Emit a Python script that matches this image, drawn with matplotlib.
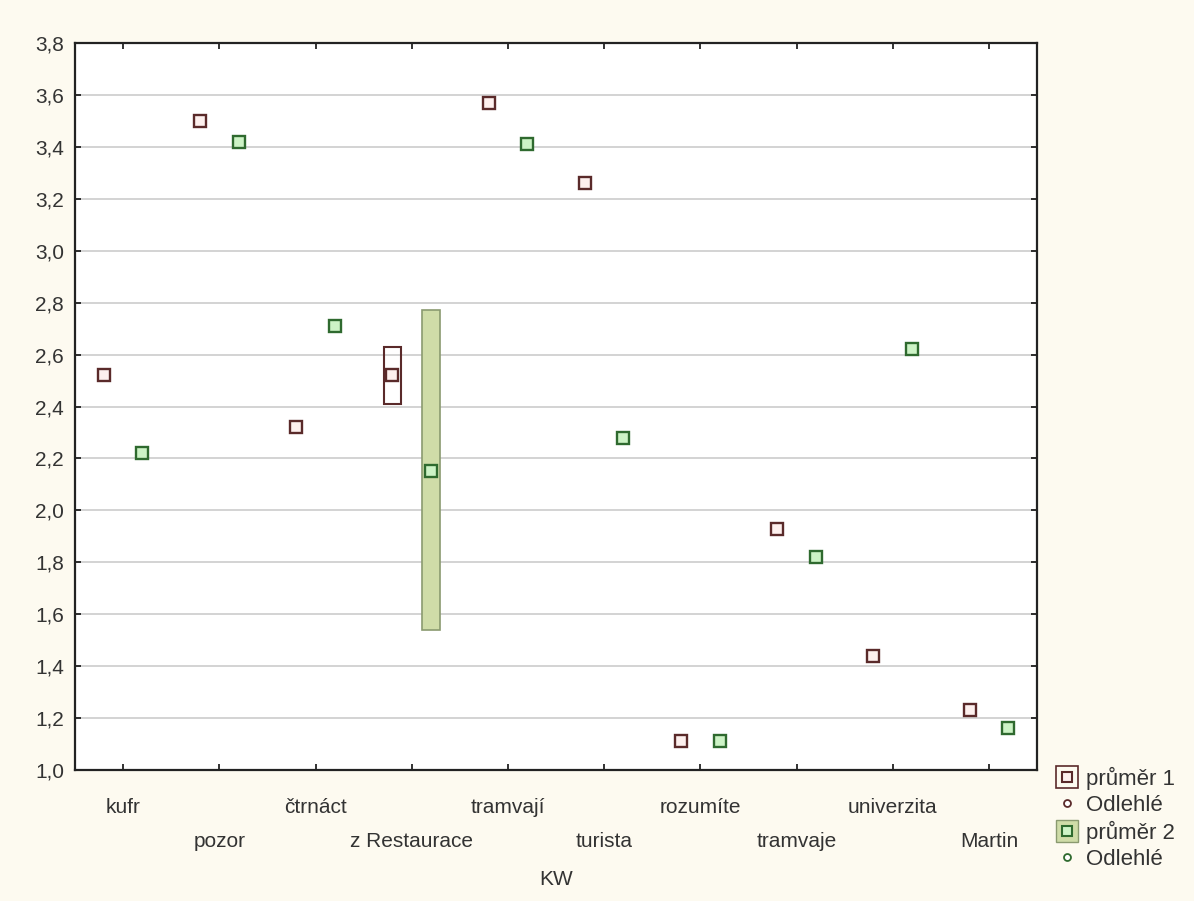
import numpy as np
import matplotlib
matplotlib.use('Agg')
import matplotlib.pyplot as plt
from matplotlib.lines import Line2D

plt.rcParams['font.family'] = ['Liberation Sans', 'DejaVu Sans']

# categories (KW) and the two means
words = ['kufr', 'pozor', 'čtrnáct', 'z Restaurace', 'tramvají',
         'turista', 'rozumíte', 'tramvaje', 'univerzita', 'Martin']
mean1 = [2.52, 3.50, 2.32, 2.52, 3.57, 3.26, 1.11, 1.93, 1.44, 1.23]
mean2 = [2.22, 3.42, 2.71, 2.15, 3.41, 2.28, 1.11, 1.82, 2.62, 1.16]
# box limits (only z Restaurace has a visible box)
box1_lo = [np.nan, np.nan, np.nan, 2.41, np.nan, np.nan, np.nan, np.nan, np.nan, np.nan]
box1_hi = [np.nan, np.nan, np.nan, 2.63, np.nan, np.nan, np.nan, np.nan, np.nan, np.nan]
box2_lo = [np.nan, np.nan, np.nan, 1.54, np.nan, np.nan, np.nan, np.nan, np.nan, np.nan]
box2_hi = [np.nan, np.nan, np.nan, 2.77, np.nan, np.nan, np.nan, np.nan, np.nan, np.nan]

bg = '#fdfaf0'
c1_edge = '#5a2a2a'
c1_fill = '#fdf0ee'
c2_edge = '#2f6a2f'
c2_fill = '#cdf3c6'
box2_fill = '#cfdca8'
box2_edge = '#8a9a70'
fs = 15

fig = plt.figure(figsize=(11.94, 9.01), dpi=100, facecolor=bg)
ax = fig.add_axes([75/1194, 1 - 770/901, (1037-75)/1194, (770-43)/901])
ax.set_facecolor('white')

x = np.arange(len(words))
off = 0.2
bw = 0.18

# boxes
for i in range(len(words)):
    if not np.isnan(box1_lo[i]):
        ax.bar(x[i] - off, box1_hi[i] - box1_lo[i], bottom=box1_lo[i], width=bw,
               facecolor='none', edgecolor=c1_edge, linewidth=1.5, zorder=3)
    if not np.isnan(box2_lo[i]):
        ax.bar(x[i] + off, box2_hi[i] - box2_lo[i], bottom=box2_lo[i], width=bw,
               facecolor=box2_fill, edgecolor=box2_edge, linewidth=1.2, zorder=3)

ax.plot(x - off, mean1, 's', ms=8, mfc=c1_fill, mec=c1_edge, mew=1.7, ls='none', zorder=4)
ax.plot(x + off, mean2, 's', ms=8, mfc=c2_fill, mec=c2_edge, mew=1.7, ls='none', zorder=4)

ax.set_xlim(-0.5, 9.5)
ax.set_ylim(1.0, 3.8)
yt = np.arange(1.0, 3.81, 0.2)
ax.set_yticks(yt)
ax.set_yticklabels([('%.1f' % v).replace('.', ',') for v in yt])
ax.set_xticks(x)
ax.set_xticklabels([w if i % 2 == 0 else '\n' + w for i, w in enumerate(words)])
ax.yaxis.grid(True, color='#cccccc', lw=1.2)
ax.set_axisbelow(True)
ax.tick_params(direction='in', length=4, width=1.2, top=True, right=True,
               labelsize=fs, colors='#111111', labelcolor='#333333')
ax.tick_params(axis='x', pad=20)
ax.tick_params(axis='y', pad=8)
for s in ax.spines.values():
    s.set_linewidth(1.6)
    s.set_color('#222222')
for lbl in ax.get_xticklabels():
    lbl.set_linespacing(2.0)
ax.set_xlabel('KW', fontsize=fs, color='#333333', labelpad=14)

# legend at lower right, clipped by figure edge
h1 = (Line2D([], [], marker='s', ms=16, mfc='none', mec=c1_edge, mew=1.2, ls='none'),
      Line2D([], [], marker='s', ms=6.5, mfc=c1_fill, mec=c1_edge, mew=1.5, ls='none'))
h2 = Line2D([], [], marker='o', ms=5, mfc='white', mec=c1_edge, mew=1.3, ls='none')
h3 = (Line2D([], [], marker='s', ms=16, mfc=box2_fill, mec=box2_edge, mew=1.0, ls='none'),
      Line2D([], [], marker='s', ms=6.5, mfc=c2_fill, mec=c2_edge, mew=1.5, ls='none'))
h4 = Line2D([], [], marker='o', ms=5, mfc='white', mec=c2_edge, mew=1.3, ls='none')
leg = fig.legend([h1, h2, h3, h4], ['průměr 1', 'Odlehlé', 'průměr 2', 'Odlehlé'],
                 loc='upper left', bbox_to_anchor=(1046/1194, 1 - 758/901),
                 frameon=False, fontsize=fs + 1, handlelength=1.1, handletextpad=0.3,
                 labelspacing=0.22, borderaxespad=0)
for t in leg.get_texts():
    t.set_color('#333333')

fig.savefig('out.png', dpi=100, facecolor=bg)
